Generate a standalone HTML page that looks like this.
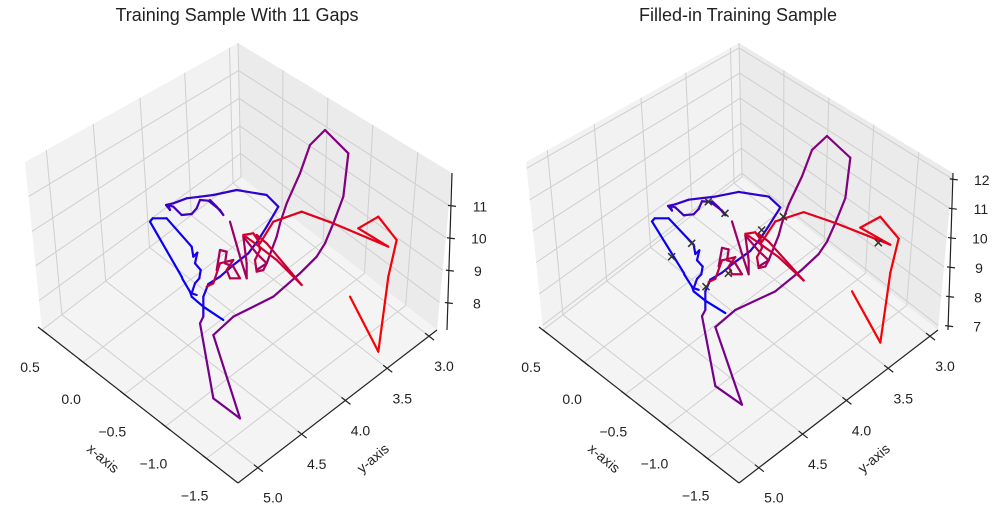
<!DOCTYPE html>
<html><head><meta charset="utf-8"><style>
html,body{margin:0;padding:0;background:#fff;}
svg{display:block;font-family:"Liberation Sans","DejaVu Sans",sans-serif;}
</style></head><body>
<svg id="fig" width="1003" height="521" viewBox="0 0 1003 521">
<text x="237" y="21" text-anchor="middle" font-size="18" fill="#222">Training Sample With 11 Gaps</text>
<text x="738" y="21" text-anchor="middle" font-size="18" fill="#222">Filled-in Training Sample</text>
<g id="left"></g>
<g id="right"></g>
</svg>
<script>
// ---- data ----
const xTicks = ["0.5","0.0","\u22120.5","\u22121.0","\u22121.5"];
const xTickFrac = [0, 0.21, 0.42, 0.63, 0.84];
const yTicks = ["5.0","4.5","4.0","3.5","3.0"];
const yTickFrac = [0.1, 0.32, 0.54, 0.75, 0.96];
const zTicksLeft = [8, 9, 10, 11];
const zTicksRight = [7, 8, 9, 10, 11, 12];
const zRangeLeft = [7.15, 12.0];
const zRangeRight = [6.85, 12.2];
// trajectory (projected view coords, 3x units) with colour progress c (0 blue → 1 red)
const segBlue1 = [[670,870],[610,830],[575,800],[570,785],[548,748],[545,740],[450,575],[458,565],[500,565],[575,650],[580,680],[592,668],[585,700],[602,720],[598,745],[585,760],[575,790],[590,795]];
const segBlue2 = [[610,860],[610,800],[625,762],[660,740],[700,705],[745,670],[775,630],[800,590],[835,530],[800,495],[710,480],[640,495],[600,500],[560,505],[520,520],[498,525],[510,540],[505,525],[520,530],[545,555],[575,552],[590,535],[600,510],[625,512],[660,540],[670,555],[650,530],[630,510]];
const segTangle = [[650,720],[660,660],[680,665],[675,700],[700,710],[720,745],[690,745],[680,720],[700,690],[660,700],[640,760],[620,770]];
const segBig = [[610,860],[600,880],[640,1105],[720,1165],[640,915],[700,860],[820,800],[900,730],[950,680],[975,640],[1000,580],[1030,500],[1045,370],[975,300],[930,345],[900,430],[860,520],[840,580],[830,620],[800,700],[770,720]];
const segRed = [[690,575],[700,610],[720,680],[740,745],[740,700],[730,620],[770,670],[800,700],[790,720],[770,725],[765,690],[780,660],[770,615],[800,640],[905,765],[830,690],[765,640],[730,615],[760,610],[780,640],[820,575],[905,545],[1000,580],[1165,650],[1075,595],[1135,560],[1190,630],[1165,740],[1135,965],[1050,800]];
const segColorRange = [[0,0.12],[0.12,0.3],[0.62,0.78],[0.45,0.55],[0.6,1]];
const gapMarks = [[625,515],[675,550],[575,640],[515,680],[785,600],[850,560],[1135,638],[685,730],[618,770]];

const NS = "http://www.w3.org/2000/svg";
function mk(tag, attrs, parent){const e=document.createElementNS(NS,tag);for(const k in attrs)e.setAttribute(k,attrs[k]);parent.appendChild(e);return e;}
function lerp(a,b,t){return [a[0]+(b[0]-a[0])*t,a[1]+(b[1]-a[1])*t];}
function col(c){
  let r,g=0,b;
  if(c<0.5){const t=c/0.5;r=Math.round(128*t);b=Math.round(255-127*t);} else {const t=(c-0.5)/0.5;r=Math.round(128+127*t);b=Math.round(128-128*t);}
  return `rgb(${r},${g},${b})`;
}

function drawPanel(g, dx, zTicks, zRange, filled){
  const L=[42+dx,330],F=[238+dx,483],R=[437+dx,330],B=[241+dx,177];
  const TL=[25+dx,162],TB=[238+dx,43],TR=[452+dx,173];
  const P=p=>p.map(v=>v[0].toFixed(1)+","+v[1].toFixed(1)).join(" ");
  let e;
  e=mk("polygon",{points:P([B,L,TL,TB]),fill:"#f2f2f2",stroke:"none"},g);
  
  
  e=mk("polygon",{points:P([B,R,TR,TB]),fill:"#ebebeb",stroke:"none"},g);
  
  
  e=mk("polygon",{points:P([B,L,F,R]),fill:"#f4f4f4",stroke:"none"},g);
  
  
  const gs={stroke:"#cfcfcf","stroke-width":1,fill:"none"};
  const zFrac=z=>(z-zRange[0])/(zRange[1]-zRange[0]);
  const wall=(b0,b1,t0,t1,u,v)=>lerp(lerp(b0,b1,u),lerp(t0,t1,u),v);
  // floor grid
  yTickFrac.forEach(f=>{const a=lerp(F,R,f),b=lerp(L,B,f);e=mk("line",Object.assign({x1:a[0],y1:a[1],x2:b[0],y2:b[1]},gs),g);});
  xTickFrac.forEach(f=>{const a=lerp(L,F,f),b=lerp(B,R,f);e=mk("line",Object.assign({x1:a[0],y1:a[1],x2:b[0],y2:b[1]},gs),g);});
  // left wall verticals (B->L) and right wall verticals (B->R)
  yTickFrac.forEach(f=>{const u=1-f;const a=wall(B,L,TB,TL,u,0),b=wall(B,L,TB,TL,u,1);e=mk("line",Object.assign({x1:a[0],y1:a[1],x2:b[0],y2:b[1]},gs),g);});
  xTickFrac.forEach(f=>{const a=wall(B,R,TB,TR,f,0),b=wall(B,R,TB,TR,f,1);e=mk("line",Object.assign({x1:a[0],y1:a[1],x2:b[0],y2:b[1]},gs),g);});
  zTicks.forEach(z=>{const v=zFrac(z);const a=wall(B,L,TB,TL,1,v),m=wall(B,L,TB,TL,0,v),b=wall(B,R,TB,TR,1,v);
    e=mk("polyline",Object.assign({points:P([a,m,b])},gs),g);});
  // axes
  const ax={stroke:"#222","stroke-width":1.2};
  e=mk("line",Object.assign({x1:L[0],y1:L[1],x2:F[0],y2:F[1]},ax),g);
  e=mk("line",Object.assign({x1:F[0],y1:F[1],x2:R[0],y2:R[1]},ax),g);
  const Zb=[447+dx,330],Zt=[452+dx,173];
  e=mk("line",Object.assign({x1:Zb[0],y1:Zb[1],x2:Zt[0],y2:Zt[1]},ax),g);
  xTicks.forEach((t,i)=>{const p=lerp(L,F,xTickFrac[i]);
    e=mk("line",Object.assign({x1:p[0]-4,y1:p[1]-3,x2:p[0]+5,y2:p[1]+4},ax),g);
    e=mk("text",{x:p[0]-12,y:p[1]+42,"text-anchor":"middle","font-size":14,fill:"#222"},g);e.textContent=t;});
  yTicks.forEach((t,i)=>{const p=lerp(F,R,yTickFrac[i]);
    e=mk("line",Object.assign({x1:p[0]-4,y1:p[1]-3,x2:p[0]+5,y2:p[1]+4},ax),g);
    e=mk("text",{x:p[0]+15,y:p[1]+35,"text-anchor":"middle","font-size":14,fill:"#222"},g);e.textContent=t;});
  zTicks.forEach(z=>{const p=lerp(Zb,Zt,zFrac(z));
    e=mk("line",Object.assign({x1:p[0]-3,y1:p[1],x2:p[0]+5,y2:p[1]+1},ax),g);
    e=mk("text",{x:p[0]+29,y:p[1]+6,"text-anchor":"middle","font-size":14,fill:"#222"},g);e.textContent=String(z);});
  e=mk("text",{x:0,y:0,"text-anchor":"middle","font-size":14,fill:"#222",transform:`translate(${100+dx},${462}) rotate(40)`},g);e.textContent="x-axis";
  e=mk("text",{x:0,y:0,"text-anchor":"middle","font-size":14,fill:"#222",transform:`translate(${376+dx},${462}) rotate(-40)`},g);e.textContent="y-axis";
  // trajectory scales
  const sx = filled ? v=>502+v/3 : v=>v/3;
  const sy = filled ? v=>136+((30+v/3)-130)*0.932 : v=>30+v/3;
  [segBlue1,segBlue2,segTangle,segBig,segRed].forEach((seg,si)=>{
    const [c0,c1]=segColorRange[si];
    for(let i=0;i<seg.length-1;i++){
      const c=c0+(c1-c0)*(i/(seg.length-1));
      e=mk("line",{x1:sx(seg[i][0]),y1:sy(seg[i][1]),x2:sx(seg[i+1][0]),y2:sy(seg[i+1][1]),stroke:col(c),"stroke-width":2.2,"stroke-linecap":"round"},g);
      
      
    }
  });
  if(filled){
    gapMarks.forEach(m=>{const x=500+m[0]/3,y=30+m[1]/3;
      e=mk("path",{d:`M${x-3.5},${y-3.5}L${x+3.5},${y+3.5}M${x-3.5},${y+3.5}L${x+3.5},${y-3.5}`,stroke:"#333","stroke-width":1.5},g);
      
      
    });
  }
}
drawPanel(document.getElementById("left"),0,zTicksLeft,zRangeLeft,false);
drawPanel(document.getElementById("right"),501,zTicksRight,zRangeRight,true);
</script>
</body></html>
